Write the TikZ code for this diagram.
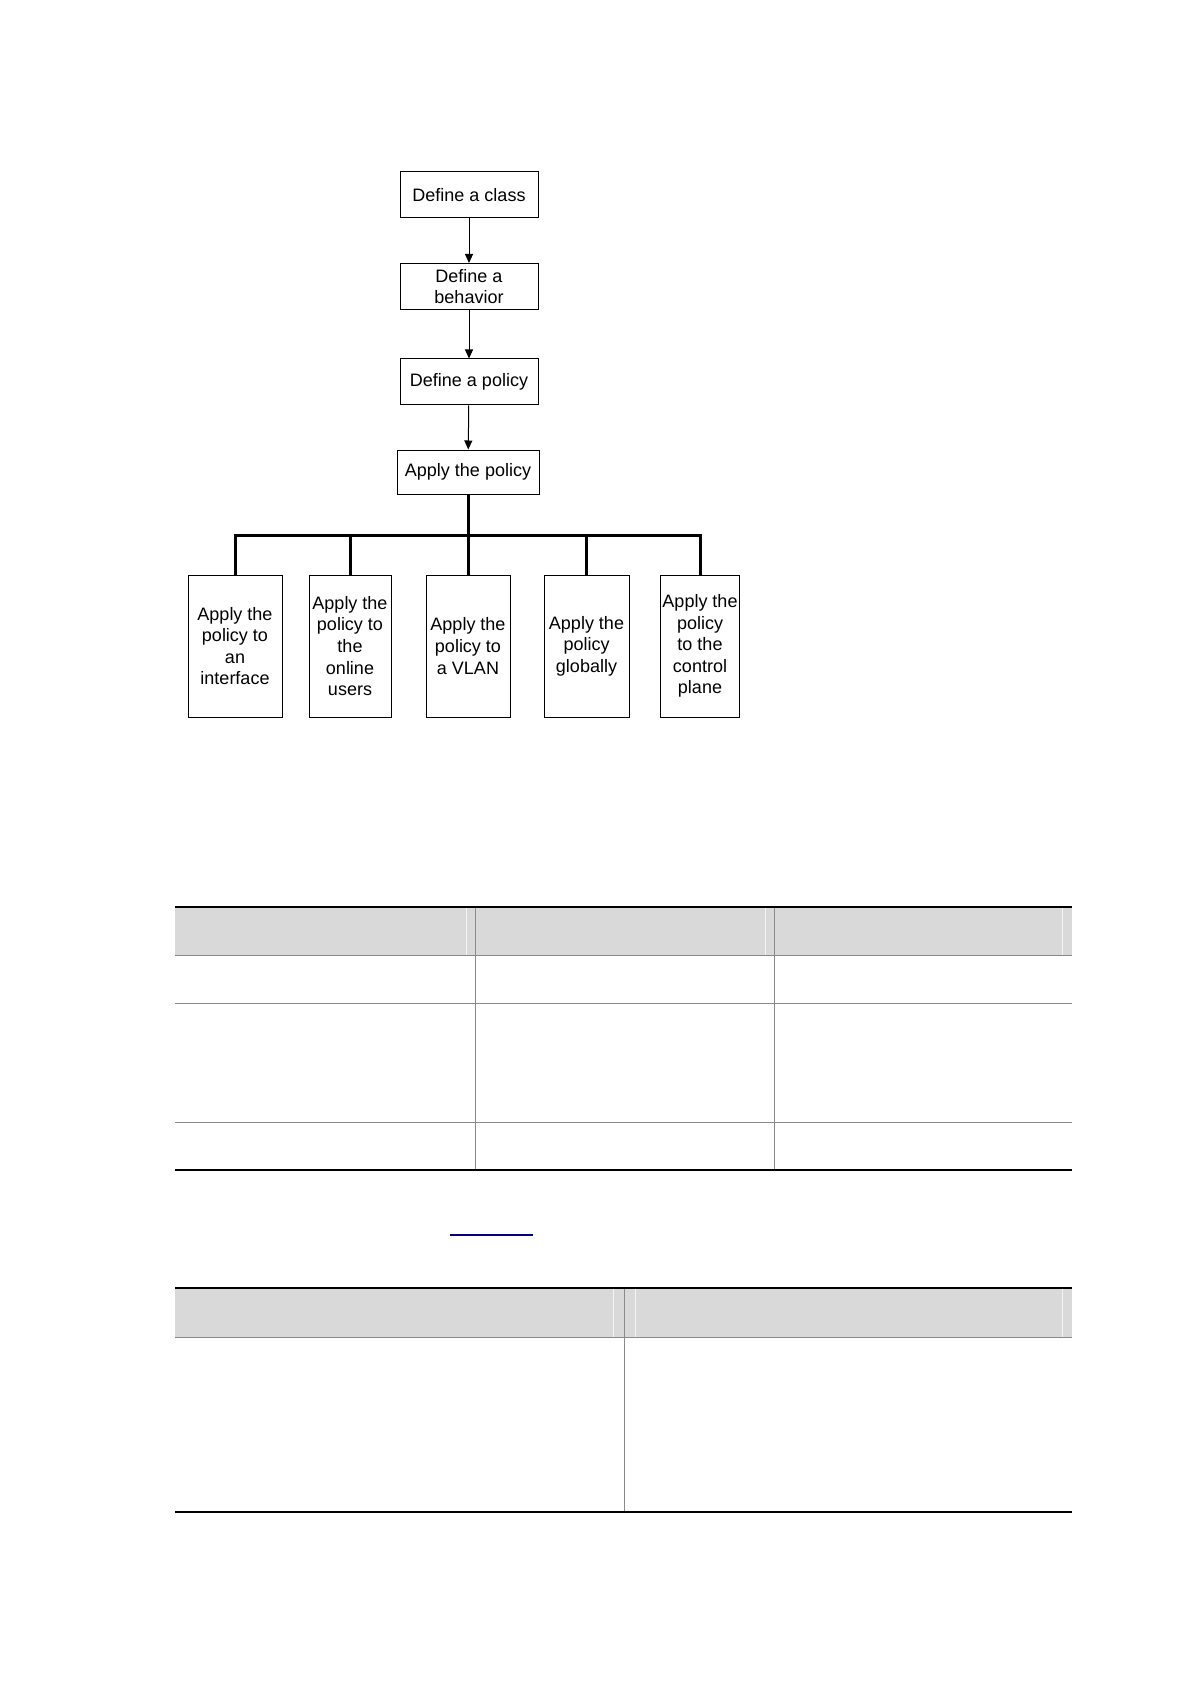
\documentclass[tikz,border=0pt]{standalone}
\usepackage{fontspec}
\setmainfont{Liberation Sans}
\usetikzlibrary{arrows.meta, positioning}

\definecolor{headgray}{HTML}{D9D9D9}
\definecolor{rulegray}{HTML}{8A8A8A}
\definecolor{linkblue}{HTML}{000080}

\begin{document}
\begin{tikzpicture}[x=0.5pt, y=-0.5pt,
    stepbox/.style={draw, line width=0.5pt, inner sep=0pt, align=center,
      font=\fontsize{9}{10.8}\selectfont},
    topbox/.style={stepbox, minimum width=69pt, minimum height=23pt},
    leafbox/.style={stepbox, minimum height=71pt},
    flow/.style={-{Triangle[length=4.5pt, width=4pt]}, line width=0.5pt},
    trunk/.style={line width=1.5pt},
    blackrule/.style={line width=0.9pt},
    grayrule/.style={rulegray, line width=0.5pt},
    seam/.style={white!70!headgray, line width=0.5pt}]
      \useasboundingbox (0,0) rectangle (1190,1684);
      % flow of steps
      \node (class)[topbox] at (469, 195) {Define a class};
      \node (behavior)[topbox] at (469, 286.5) {Define a\\behavior};
      \node (policy)[topbox] at (469, 382) {Define a policy};
      \node (apply)[topbox, minimum width=71pt, minimum height=22pt] at (468, 472) {Apply the policy};
      \draw[flow] (class) -- (behavior);
      \draw[flow] (behavior) -- (policy);
      \draw[flow] (policy) -- (apply);
      % ways to apply
      \node (iface)[leafbox, minimum width=47pt] at (235, 646) {Apply the\\policy to\\an\\interface};
      \node (users)[leafbox, minimum width=41pt] at (350, 646) {Apply the\\policy to\\the\\online\\users};
      \node (vlan)[leafbox, minimum width=42pt] at (468, 646) {Apply the\\policy to\\a VLAN};
      \node (global)[leafbox, minimum width=42.5pt] at (586.5, 646) {Apply the\\policy\\globally};
      \node (ctrl)[leafbox, minimum width=39.5pt] at (700, 646) {Apply the\\policy\\to the\\control\\plane};
      \coordinate (bar) at (468, 535);
      \draw[trunk] (apply) -- (bar);
      \draw[trunk] (iface) |- (bar) -| (ctrl);
      \draw[trunk] (users) -- (users |- bar);
      \draw[trunk] (vlan) -- (bar);
      \draw[trunk] (global) -- (global |- bar);
      % first table
      \fill[headgray] (175, 907) rectangle (1072, 955);
      \draw[seam] (466, 908) -- (466, 955) (765, 908) -- (765, 955) (1062, 908) -- (1062, 955);
      \draw[grayrule] (475.5, 907) -- (475.5, 1170) (774, 907) -- (774, 1170);
      \draw[grayrule] (175, 955) -- (1072, 955) (175, 1003) -- (1072, 1003) (175, 1122) -- (1072, 1122);
      \draw[blackrule] (175, 907) -- (1072, 907) (175, 1170) -- (1072, 1170);
      % link
      \draw[linkblue, line width=0.7pt] (450, 1235) -- (533, 1235);
      % second table
      \fill[headgray] (175, 1288) rectangle (1072, 1337);
      \draw[seam] (613, 1289) -- (613, 1337) (635.5, 1289) -- (635.5, 1337) (1062, 1289) -- (1062, 1337);
      \draw[grayrule] (624.5, 1288) -- (624.5, 1512);
      \draw[grayrule] (175, 1337) -- (1072, 1337);
      \draw[blackrule] (175, 1288) -- (1072, 1288) (175, 1512) -- (1072, 1512);
    \end{tikzpicture}
\end{document}
